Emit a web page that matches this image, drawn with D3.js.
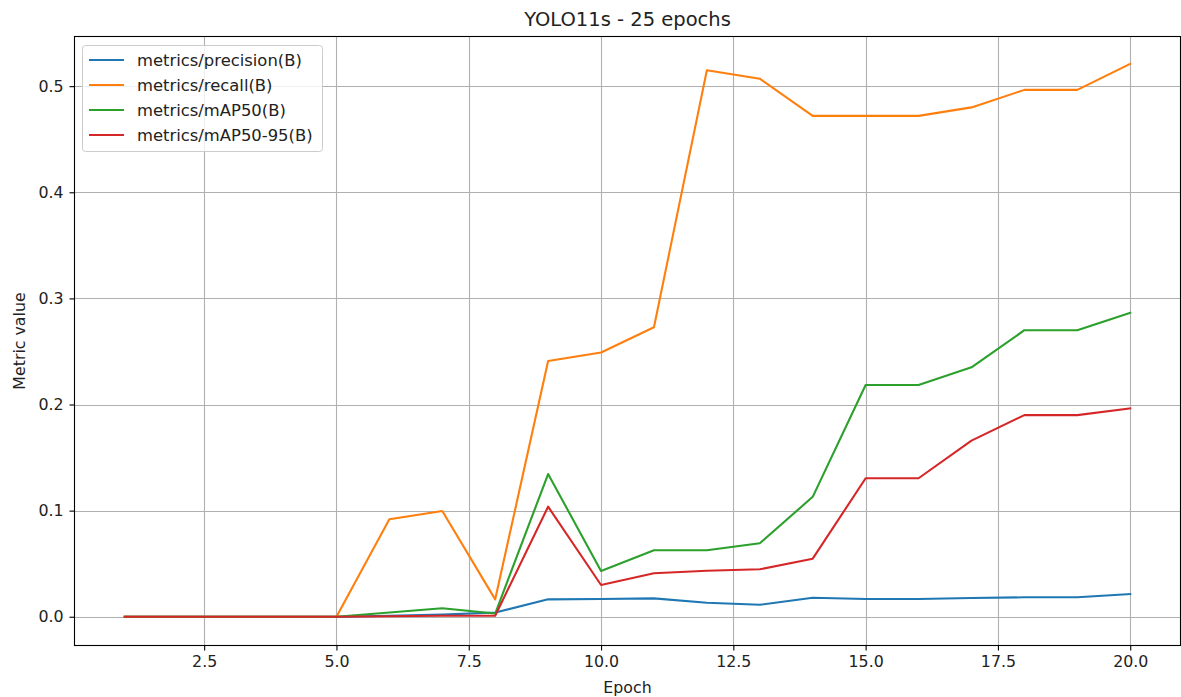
<!DOCTYPE html>
<html>
<head>
<meta charset="utf-8">
<script src="https://cdn.jsdelivr.net/npm/d3@7"></script>
<style>
  html, body { margin: 0; padding: 0; background: #fff; }
  svg { display: block; font-family: "DejaVu Sans", sans-serif; }
</style>
</head>
<body>
<svg id="chart" width="1181" height="697"></svg>
<script>
const epochs = [1, 2, 3, 4, 5, 6, 7, 8, 9, 10, 11, 12, 13, 14, 15, 16, 17, 18, 19, 20];
const precision = [0, 0, 0, 0, 0, 0.001, 0.002, 0.004, 0.0164, 0.0167, 0.0173, 0.0132, 0.0113, 0.0179, 0.0167, 0.0167, 0.0176, 0.0183, 0.0183, 0.0214];
const recall = [0, 0, 0, 0, 0, 0.0918, 0.0996, 0.0164, 0.241, 0.249, 0.2728, 0.515, 0.507, 0.472, 0.472, 0.472, 0.480, 0.4965, 0.4965, 0.521];
const mAP50 = [0, 0, 0, 0, 0, 0.004, 0.008, 0.003, 0.1345, 0.0431, 0.0626, 0.0626, 0.0692, 0.113, 0.2184, 0.2184, 0.235, 0.270, 0.270, 0.2865];
const mAP5095 = [0, 0, 0, 0, 0, 0.0005, 0.001, 0.001, 0.1037, 0.0299, 0.041, 0.0434, 0.0447, 0.0547, 0.1305, 0.1305, 0.166, 0.190, 0.190, 0.1964];
const seriesNames = ["metrics/precision(B)", "metrics/recall(B)", "metrics/mAP50(B)", "metrics/mAP50-95(B)"];
const xTicks = [2.5, 5.0, 7.5, 10.0, 12.5, 15.0, 17.5, 20.0];
const yTicks = [0.0, 0.1, 0.2, 0.3, 0.4, 0.5];
const titleText = "YOLO11s - 25 epochs";
const xLabel = "Epoch";
const yLabel = "Metric value";

const colors = ["#1f77b4", "#ff7f0e", "#2ca02c", "#d62728"];
const seriesValues = [precision, recall, mAP50, mAP5095];

const svg = d3.select("#chart");
const pLeft = 74.5, pRight = 1180.5, pTop = 36.5, pBottom = 645.5;
const baseFont = 15.8;

const x = d3.scaleLinear().domain([0.05, 20.95]).range([pLeft, pRight]);
const y = d3.scaleLinear().domain([-0.0271, 0.5468]).range([pBottom, pTop]);

// grid
const grid = svg.append("g");
grid.selectAll("line.vx").data(xTicks).enter().append("line")
  .attr("x1", d => Math.round(x(d)) + 0.5).attr("x2", d => Math.round(x(d)) + 0.5)
  .attr("y1", pTop).attr("y2", pBottom)
  .attr("stroke", "#b0b0b0").attr("stroke-width", 1.1);
grid.selectAll("line.hy").data(yTicks).enter().append("line")
  .attr("y1", d => Math.round(y(d)) + 0.5).attr("y2", d => Math.round(y(d)) + 0.5)
  .attr("x1", pLeft).attr("x2", pRight)
  .attr("stroke", "#b0b0b0").attr("stroke-width", 1.1);

// lines
const line = d3.line().x((d, i) => x(epochs[i])).y(d => y(d));
svg.append("clipPath").attr("id", "clip").append("rect")
  .attr("x", pLeft).attr("y", pTop).attr("width", pRight - pLeft).attr("height", pBottom - pTop);
const lines = svg.append("g").attr("clip-path", "url(#clip)");
seriesValues.forEach((vals, k) => {
  lines.append("path").datum(vals)
    .attr("d", line)
    .attr("fill", "none")
    .attr("stroke", colors[k])
    .attr("stroke-width", 2.1)
    .attr("stroke-linejoin", "round")
    .attr("stroke-linecap", "square");
});

// axes
const xAxis = d3.axisBottom(x).tickValues(xTicks).tickFormat(d3.format(".1f")).tickSize(5).tickPadding(5);
const yAxis = d3.axisLeft(y).tickValues(yTicks).tickFormat(d3.format(".1f")).tickSize(5).tickPadding(6);
const gx = svg.append("g").attr("transform", `translate(0,${pBottom})`).call(xAxis);
const gy = svg.append("g").attr("transform", `translate(${pLeft},0)`).call(yAxis);
[gx, gy].forEach(g => {
  g.select(".domain").remove();
  g.selectAll("line").attr("stroke", "#000").attr("stroke-width", 1.1);
  g.selectAll("text").attr("font-family", "DejaVu Sans").attr("font-size", baseFont).attr("fill", "#222");
});

// spines
svg.append("rect").attr("x", pLeft).attr("y", pTop).attr("width", pRight - pLeft).attr("height", pBottom - pTop)
  .attr("fill", "none").attr("stroke", "#000").attr("stroke-width", 1.1);

// title and labels
svg.append("text").attr("x", (pLeft + pRight) / 2).attr("y", 26).attr("text-anchor", "middle")
  .attr("font-size", 19.5).attr("fill", "#222").text(titleText);
svg.append("text").attr("x", (pLeft + pRight) / 2).attr("y", 693).attr("text-anchor", "middle")
  .attr("font-size", baseFont).attr("fill", "#222").text(xLabel);
svg.append("text").attr("transform", `translate(25,${(pTop + pBottom) / 2}) rotate(-90)`).attr("text-anchor", "middle")
  .attr("font-size", baseFont).attr("fill", "#222").text(yLabel);

// legend
const lg = svg.append("g");
lg.append("rect").attr("x", 82.5).attr("y", 45.5).attr("width", 240).attr("height", 106).attr("rx", 3)
  .attr("fill", "#fff").attr("fill-opacity", 0.8).attr("stroke", "#cccccc").attr("stroke-width", 1);
seriesNames.forEach((name, k) => {
  const yy = 60 + k * 25;
  lg.append("line").attr("x1", 89).attr("x2", 124).attr("y1", yy).attr("y2", yy)
    .attr("stroke", colors[k]).attr("stroke-width", 2.1);
  lg.append("text").attr("x", 137).attr("y", yy).attr("dy", "0.35em")
    .attr("font-size", 16.4).attr("fill", "#222").text(name);
});
</script>
</body>
</html>
